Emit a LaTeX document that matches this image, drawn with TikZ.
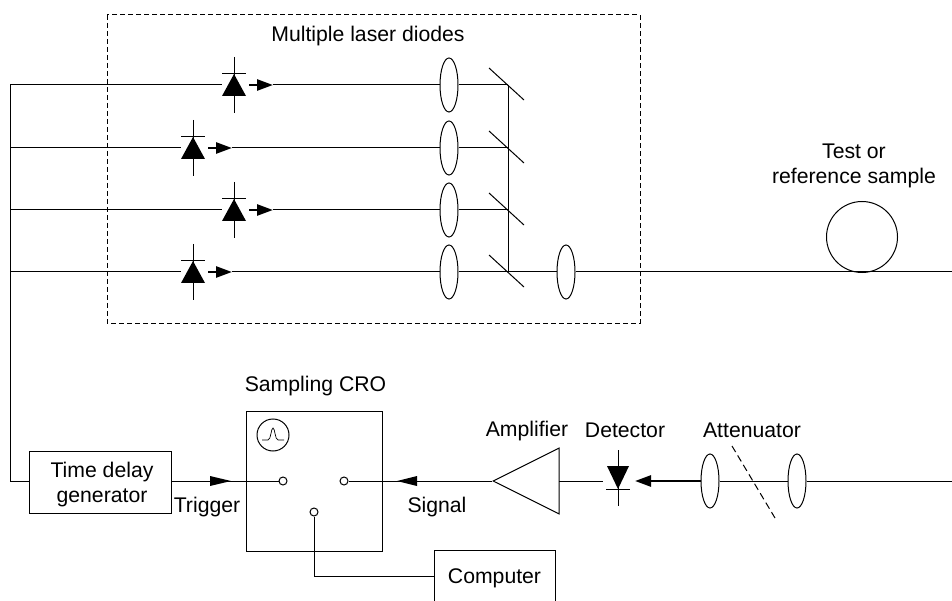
\documentclass[tikz,border=0pt]{standalone}
\usepackage{fontspec}
\setmainfont{Liberation Sans}
\usetikzlibrary{arrows.meta,shapes.geometric}

\begin{document}
\begin{tikzpicture}[x=1pt,y=-1pt,line width=1pt,
    every node/.style={font=\fontsize{21.2}{25}\selectfont}]
    \tikzstyle{label text}=[inner sep=0pt,align=center,anchor=base]
    \tikzstyle{lens}=[ellipse,draw,fill=white,minimum width=18pt,minimum height=54pt,inner sep=0pt]
    \tikzstyle{pad}=[circle,draw,fill=white,minimum size=8pt,inner sep=0pt]
    \tikzstyle{block}=[rectangle,draw,inner sep=0pt]
    \tikzstyle{beam}=[line width=2.6pt,-{Triangle[length=16pt,width=11pt]}]

    \useasboundingbox (0,0) rectangle (952,601);

    \draw[dash pattern=on 5pt off 3pt] (107,15) rectangle (640,323);
    \node[label text] (title) at (368,42) {Multiple laser diodes};

    % laser rows
    \foreach \name / \x / \y in {0/234/85,1/193/148,2/234/210,3/193/272}
    {
        \coordinate (W-\name) at (10,\y);
        \coordinate (D-\name) at (\x,\y);
        \coordinate (T-\name) at (\x+39,\y);
        \coordinate (M-\name) at (508,\y);
        \node[lens] (L-\name) at (449,\y) {};
        \draw (W-\name) -- ([xshift=-12pt]D-\name);
        \draw (D-\name) ++(0,-28) -- ++(0,56);
        \draw (D-\name) ++(-12,-11) -- ++(24,0);
        \fill (D-\name) ++(0,-11) -- ++(12,22) -- ++(-24,0) -- cycle;
        \draw[beam] ([xshift=-24pt]T-\name) -- (T-\name);
        \draw (T-\name) -- (L-\name);
        \draw (L-\name) -- (M-\name);
        \draw (M-\name) ++(-19,-17) -- ++(35,32);
    }
    \draw (M-0) -- (M-3);

    % sample arm
    \node[lens] (lens out) at (566,272) {};
    \node[circle,draw,minimum size=71pt,inner sep=0pt] (coil) at (862,237) {};
    \coordinate (exit) at (952,272);
    \draw (M-3) -- (lens out);
    \draw (lens out) -- (exit);
    \node[inner sep=0pt,align=center] (sample) at (854,166) {Test or\\reference sample};

    % bottom row
    \node[block,minimum width=142pt,minimum height=62pt] (delay) at (100,482) {};
    \node[inner sep=0pt,align=center] (delay text) at (102,485) {Time delay\\generator};
    \node[block,minimum width=136pt,minimum height=140pt] (cro) at (314,481) {};
    \node[label text] (cro title) at (315.5,391) {Sampling CRO};
    \node[label text] (trigger) at (207,512) {Trigger};
    \node[label text] (signal) at (437,512) {Signal};
    \node[pad] (P-0) at (283,481) {};
    \node[pad] (P-1) at (344,481) {};
    \node[pad] (P-2) at (314,512) {};
    \node[circle,draw,minimum size=32pt,inner sep=0pt] (scope) at (273,435) {};
    \draw[line width=0.7pt] (scope) ++(-11,5) -- ++(6,0)
        .. controls +(3,0) and +(-2,0) .. ++(5,-12)
        .. controls +(2,0) and +(-3,0) .. ++(5,12) -- ++(6,0);

    \node[block,minimum width=121pt,minimum height=52pt,text height=15pt,text depth=1pt] (computer) at (494.5,576) {Computer};
    \draw (P-2) |- (computer);

    \draw (W-0) |- (delay.west |- P-0);
    \draw (delay.east |- P-0) -- (P-0);
    \fill (231,481) -- ++(-21,-5) -- ++(0,10) -- cycle;
    \draw (P-1) -- (492,481);
    \fill (397,481) -- ++(20,-5) -- ++(0,10) -- cycle;

    \node[isosceles triangle,isosceles triangle apex angle=53,shape border rotate=180,draw,minimum height=66pt,inner sep=0pt,
        anchor=apex] (amp) at (492,481) {};
    \node[label text] (amp text) at (527,436) {Amplifier};
    \coordinate (amp out) at (559,481);
    \coordinate (det) at (618,477);
    \draw (amp out) -- (603,481);
    \draw (det) ++(0,-27) -- ++(0,56);
    \draw (det) ++(-12,12) -- ++(24,0);
    \fill (det) ++(0,12) -- ++(11,-23) -- ++(-22,0) -- cycle;
    \node[label text] (det text) at (625,437) {Detector};

    \node[lens] (A-0) at (710,481) {};
    \node[lens] (A-1) at (797,481) {};
    \coordinate (in) at (952,481);
    \draw (in) -- (A-1);
    \draw (A-1) -- (A-0);
    \draw[line width=2.6pt,-{Triangle[length=16pt,width=11pt]}] (A-0.west) -- (635,481);
    \draw[dash pattern=on 7pt off 4pt] (732,446) -- (775,518);
    \node[label text] (att text) at (752,437) {Attenuator};
\end{tikzpicture}
\end{document}
